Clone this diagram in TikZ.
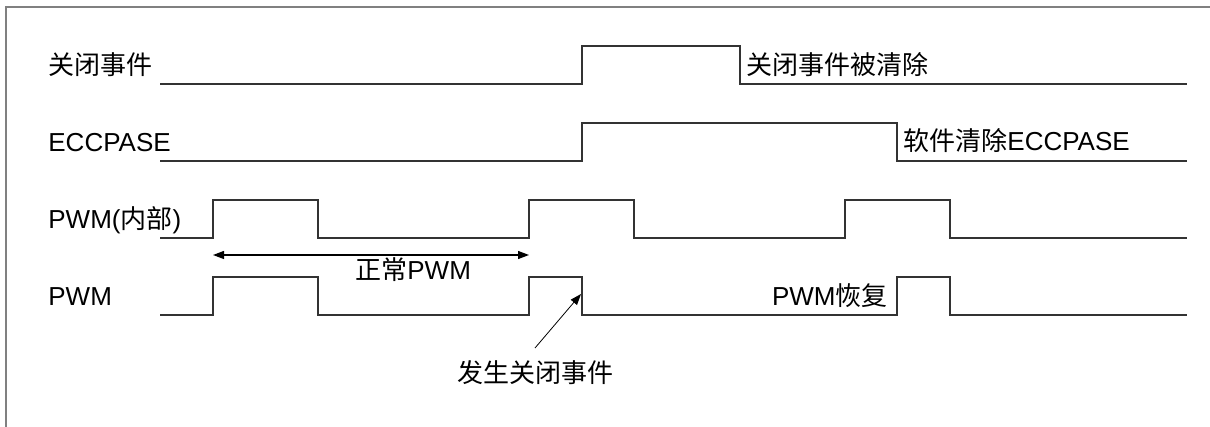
\documentclass[tikz,border=0pt]{standalone}
\usepackage{fontspec}
\setmainfont{Liberation Sans}
\newfontfamily\cjk{Noto Sans CJK SC}
\usetikzlibrary{arrows.meta}
\tikzset{
	lbl/.style={font=\fontsize{13}{15}\selectfont, inner sep=0pt},
	sig/.style={black!80, line width=0.6pt},
	fleche/.style={line width=0.6pt, -{Triangle[length=5.5pt,width=4pt]}}
}
\begin{document}
\begin{tikzpicture}[x=0.5pt,y=-0.5pt]
	\useasboundingbox (0,0) rectangle (1210,427);
	%cadre
	\draw [gray, line width=0.6pt] (6,427) -- (6,7) -- (1210,7);
	%noms des signaux
	\node [lbl, anchor=base west] (evt) at (48,75) {{\cjk 关闭事件}};
	\node [lbl, anchor=base west] (ecc) at (48,152) {ECCPASE};
	\node [lbl, anchor=base west] (pwmi) at (48,229) {PWM({\cjk 内部})};
	\node [lbl, anchor=base west] (pwm) at (48,306) {PWM};
	%fin
	%les signaux
	\draw [sig] (160,84) -- (582,84) -- (582,46) -- (740,46) -- (740,84) -- (1187,84);
	\draw [sig] (160,161) -- (582,161) -- (582,123) -- (897,123) -- (897,161) -- (1187,161);
	\draw [sig] (160,238) -- (213,238) -- (213,200) -- (318,200) -- (318,238)
		-- (529,238) -- (529,200) -- (634,200) -- (634,238)
		-- (845,238) -- (845,200) -- (950,200) -- (950,238) -- (1187,238);
	\draw [sig] (160,315) -- (213,315) -- (213,277) -- (318,277) -- (318,315)
		-- (529,315) -- (529,277) -- (582,277) -- (582,315)
		-- (897,315) -- (897,277) -- (950,277) -- (950,315) -- (1187,315);
	%fin
	%annotations
	\node [lbl, anchor=base west] (clr) at (746,75) {{\cjk 关闭事件被清除}};
	\node [lbl, anchor=base west] (sw) at (903,151) {{\cjk 软件清除}ECCPASE};
	\node [lbl, anchor=base east] (rec) at (888,306) {PWM{\cjk 恢复}};
	\node [lbl, anchor=base west] (norm) at (355,280) {{\cjk 正常}PWM};
	\node [lbl, anchor=base] (shut) at (535,382) {{\cjk 发生关闭事件}};
	\coordinate (na) at (213,255);
	\coordinate (nb) at (529,255);
	\coordinate (st) at (535,348);
	\coordinate (hit) at (581,294);
	\draw [fleche, {Triangle[length=5.5pt,width=4pt]}-{Triangle[length=5.5pt,width=4pt]}] (na) -- (nb);
	\draw [fleche, line width=0.4pt] (st) -- (hit);
	%fin
\end{tikzpicture}
\end{document}
